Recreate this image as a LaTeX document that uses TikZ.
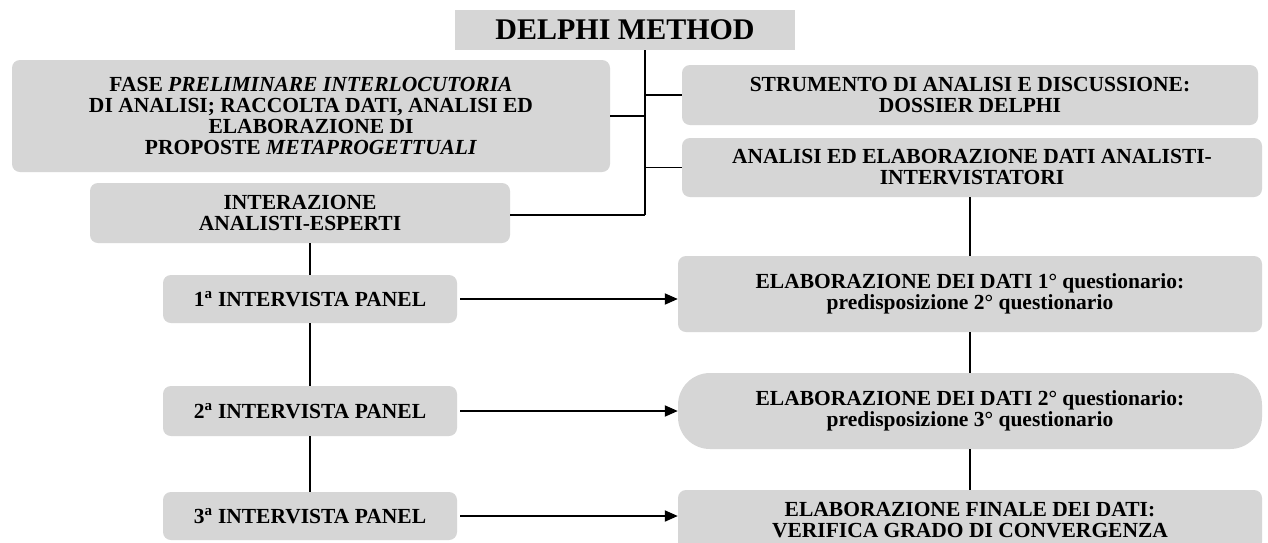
\documentclass[tikz,border=0pt]{standalone}
\usepackage{fontspec}
\setmainfont{Liberation Serif}
\usetikzlibrary{arrows.meta,calc}
\definecolor{boxgray}{RGB}{214,214,214}
\tikzset{
  base/.style={fill=boxgray, draw=none, inner sep=0pt, align=center,
    font=\fontsize{21.5}{21}\selectfont\bfseries},
  rbox/.style={base, rounded corners=8pt},
  pill/.style={base, rounded corners=32pt},
  titlebox/.style={base, font=\fontsize{30}{32}\selectfont\bfseries},
  conn/.style={line width=1.9pt, black},
  arr/.style={conn, -{Triangle[length=13pt,width=11pt]}, shorten <=3pt},
}
\newcommand{\bx}[7]{% name, style, x1, x2, y1, y2, text
  \node[#2, minimum width={#4-#3}, minimum height={#6-#5}] (#1) at ({(#3+#4)/2},{(#5+#6)/2}) {#7};}
\begin{document}
\begin{tikzpicture}[x=1pt,y=-1pt]
\useasboundingbox (0,0) rectangle (1268,542);
\clip (0,0) rectangle (1268,542);
\fill[white] (0,0) rectangle (1268,542);
\bx{title}{titlebox}{455}{795}{10}{50}{DELPHI METHOD}
\bx{fase}{rbox}{12}{610}{60}{172}{FASE \textit{PRELIMINARE INTERLOCUTORIA}\\DI ANALISI; RACCOLTA DATI, ANALISI ED\\ELABORAZIONE DI\\PROPOSTE \textit{METAPROGETTUALI}}
\bx{inter}{rbox}{90}{510}{183}{243}{INTERAZIONE\\ANALISTI-ESPERTI}
\bx{strum}{rbox}{682}{1258}{65}{125}{STRUMENTO DI ANALISI E DISCUSSIONE:\\DOSSIER DELPHI}
\bx{anal}{rbox}{682}{1262}{138}{197}{ANALISI ED ELABORAZIONE DATI ANALISTI-\\INTERVISTATORI}
\bx{e1}{rbox}{678}{1262}{256}{332}{ELABORAZIONE DEI DATI 1° questionario:\\predisposizione 2° questionario}
\bx{e2}{pill}{678}{1262}{373}{449}{ELABORAZIONE DEI DATI 2° questionario:\\predisposizione 3° questionario}
\bx{e3}{rbox}{678}{1262}{490}{550}{ELABORAZIONE FINALE DEI DATI:\\VERIFICA GRADO DI CONVERGENZA}
\bx{p1}{rbox}{163}{457}{275}{323}{1\textsuperscript{a} INTERVISTA PANEL}
\bx{p2}{rbox}{163}{457}{386}{436}{2\textsuperscript{a} INTERVISTA PANEL}
\bx{p3}{rbox}{163}{457}{492}{540}{3\textsuperscript{a} INTERVISTA PANEL}
\coordinate (tk) at (645,215);
% trunk and branches
\draw[conn] (title.south -| tk) -- (tk);
\draw[conn] (fase.east) -- (fase.east -| tk);
\draw[conn] (strum.west -| tk) -- (strum.west);
\draw[conn] (anal.west -| tk) -- (anal.west);
\draw[conn] (inter.east |- tk) -- (tk);
% left column
\draw[conn] (p1.north |- inter.south) -- (p1.north);
\draw[conn] (p1.south) -- (p2.north);
\draw[conn] (p2.south) -- (p3.north);
% right column
\draw[conn] (e1.north |- anal.south) -- (e1.north);
\draw[conn] (e1.south) -- (e2.north);
\draw[conn] (e2.south) -- (e3.north);
% arrows
\draw[arr] (p1.east) -- (p1.east -| e1.west);
\draw[arr] (p2.east) -- (p2.east -| e2.west);
\draw[arr] (p3.east) -- (p3.east -| e3.west);
\end{tikzpicture}
\end{document}
